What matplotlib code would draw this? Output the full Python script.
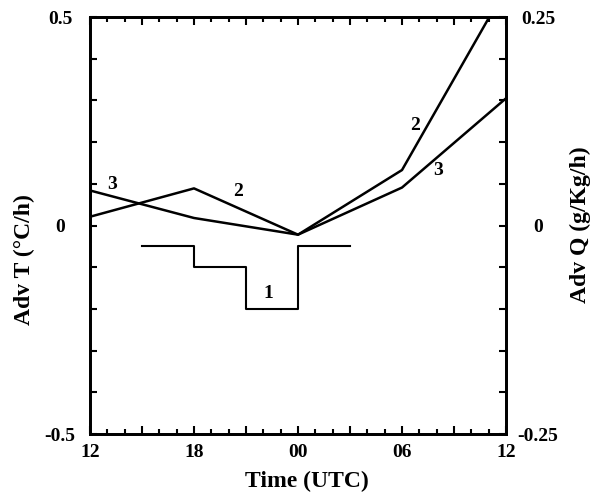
import matplotlib
matplotlib.use("Agg")
import matplotlib.pyplot as plt
from matplotlib.ticker import MultipleLocator

plt.rcParams['font.family'] = ['Liberation Serif', 'DejaVu Serif']
plt.rcParams['font.weight'] = 'bold'

# hours elapsed since 12 UTC
hours_profile = [0, 6, 12, 18, 24]
adv_2 = [0.021, 0.089, -0.022, 0.133, 0.57]
adv_3 = [0.084, 0.018, -0.022, 0.091, 0.305]

hours_step = [3, 6, 9, 12, 15]
adv_1 = [-0.05, -0.10, -0.20, -0.05, -0.05]

tick_hours = [0, 6, 12, 18, 24]
tick_names = ["12", "18", "00", "06", "12"]

W, H = 596, 498
fig = plt.figure(figsize=(W / 100, H / 100), dpi=100)
ax = fig.add_axes([90 / W, 1 - 434 / H, 416 / W, 417 / H])

ax.plot(hours_profile, adv_2, color='black', lw=1.8)
ax.plot(hours_profile, adv_3, color='black', lw=1.8)
ax.plot(hours_step, adv_1, color='black', lw=1.5, drawstyle='steps-post')

lab_kw = dict(fontsize=14, fontweight='bold', ha='center', va='center')
ax.text(1.25, 0.098, "3", **lab_kw)
ax.text(8.54, 0.081, "2", **lab_kw)
ax.text(10.27, -0.162, "1", **lab_kw)
ax.text(18.75, 0.24, "2", **lab_kw)
ax.text(20.08, 0.132, "3", **lab_kw)

ax.set_xlim(0, 24)
ax.set_ylim(-0.5, 0.5)

ax.xaxis.set_minor_locator(MultipleLocator(1))
ax.set_xticks(list(range(0, 25, 3)))
ax.set_xticklabels([tick_names[tick_hours.index(h)] if h in tick_hours else "" for h in range(0, 25, 3)])

yt = [round(-0.5 + 0.1 * i, 1) for i in range(11)]
ax.set_yticks(yt)
ax.set_yticklabels(["-0.5" if v == -0.5 else "0" if v == 0 else "0.5" if v == 0.5 else "" for v in yt])

ax.tick_params(axis='x', which='major', direction='in', length=6, width=1.5, top=True, labelsize=14, pad=7)
ax.tick_params(axis='x', which='minor', direction='in', length=3.5, width=1.5, top=True)
ax.tick_params(axis='y', which='major', direction='in', length=5, width=1.5, labelsize=14, pad=21.5)
for lab in ax.get_xticklabels():
    lab.set_fontweight('bold')
for lab in ax.get_yticklabels():
    lab.set_fontweight('bold')
    lab.set_horizontalalignment('center')

for s in ax.spines.values():
    s.set_linewidth(2)

ax2 = ax.twinx()
ax2.set_ylim(-0.25, 0.25)
yt2 = [round(-0.25 + 0.05 * i, 2) for i in range(11)]
ax2.set_yticks(yt2)
ax2.set_yticklabels(["-0.25" if v == -0.25 else "0" if v == 0 else "0.25" if v == 0.25 else "" for v in yt2])
ax2.tick_params(axis='y', which='major', direction='in', length=5, width=1.5, labelsize=14, pad=23)
for lab in ax2.get_yticklabels():
    lab.set_fontweight('bold')
    lab.set_horizontalalignment('center')
for s in ax2.spines.values():
    s.set_linewidth(2)

fig.text(307 / W, 1 - 481 / H, "Time (UTC)", fontsize=17, fontweight='bold', ha='center', va='center')
fig.text(24 / W, 1 - 260 / H, "Adv T (°C/h)", fontsize=17, fontweight='bold', ha='center', va='center', rotation=90)
fig.text(580 / W, 1 - 225 / H, "Adv Q (g/Kg/h)", fontsize=17, fontweight='bold', ha='center', va='center', rotation=90)

fig.savefig("out.png", dpi=100)
